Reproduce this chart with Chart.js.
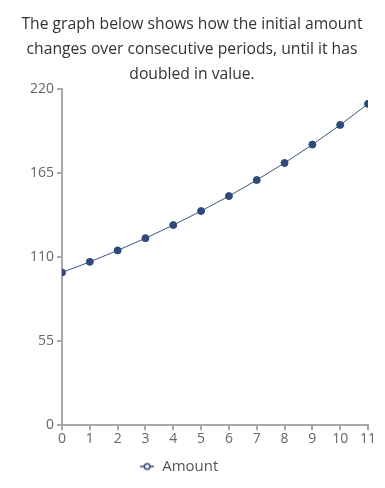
<!DOCTYPE html>
<html><head><meta charset="utf-8">
<script src="https://cdn.jsdelivr.net/npm/chart.js@4"></script>
<style>html,body{margin:0;padding:0;background:#fff}#w{width:385px;height:488px}</style>
</head><body><div id="w"><canvas id="c"></canvas></div>
<script>
const titleLines = ["The graph below shows how the initial amount","changes over consecutive periods, until it has","doubled in value."];
const periods = [0,1,2,3,4,5,6,7,8,9,10,11];
const amounts = [100,107,114.5,122.5,131.1,140.3,150.1,160.6,171.8,183.8,196.7,210.5];
const yTicks = [0,55,110,165,220];
const seriesName = "Amount";

const navy = '#2e4a78';
const axisCol = '#a8a8a8';
const font = "'Open Sans', 'Noto Sans', sans-serif";

// legend icon: line with hollow circle
const ic = document.createElement('canvas');
ic.width = 14; ic.height = 10;
const g = ic.getContext('2d');
g.strokeStyle = navy; g.lineWidth = 1.5;
g.beginPath(); g.moveTo(0,5); g.lineTo(14,5); g.stroke();
g.fillStyle = '#fff'; g.lineWidth = 1.5;
g.beginPath(); g.arc(7,5,2.8,0,Math.PI*2); g.fill(); g.stroke();

new Chart(document.getElementById('c'), {
  type: 'line',
  data: { datasets: [{
    label: seriesName,
    data: periods.map((p,i)=>({x:p,y:amounts[i]})),
    borderColor: '#3b5684', borderWidth: 1,
    pointBackgroundColor: navy, pointBorderColor: navy,
    pointRadius: 3.5, pointHoverRadius: 3.5, tension: 0
  }]},
  plugins: [{ id: 'legendShift', afterLayout(chart) { if (chart.legend) { chart.legend.left -= 26; } } }],
  options: {
    responsive: true, maintainAspectRatio: false, animation: false,
    layout: { padding: { left: 16, right: 17, top: 0, bottom: 4 } },
    plugins: {
      title: { display: true, text: titleLines, color: '#333', font: { family: font, size: 15.7, weight: 'normal', lineHeight: 1.6 }, padding: { top: 12, bottom: 2 } },
      legend: { position: 'bottom', labels: { color: '#555', font: { family: font, size: 15 }, usePointStyle: true, padding: 12,
        generateLabels: (chart) => [{ text: seriesName, pointStyle: ic, fontColor: '#555', datasetIndex: 0, hidden: false, lineWidth: 0, strokeStyle: 'transparent', fillStyle: 'transparent' }] } },
      tooltip: { enabled: false }
    },
    scales: {
      x: { type: 'linear', min: 0, max: 11,
        afterBuildTicks: (s) => { s.ticks = periods.map(v=>({value:v})); },
        grid: { display: true, drawOnChartArea: false, drawTicks: true, tickLength: 5, color: axisCol, lineWidth: 2 },
        border: { display: true, color: axisCol, width: 2 },
        ticks: { color: '#666', font: { family: font, size: 14 }, padding: 0, maxRotation: 0, autoSkip: false } },
      y: { type: 'linear', min: 0, max: 220,
        afterBuildTicks: (s) => { s.ticks = yTicks.map(v=>({value:v})); },
        afterFit: (s) => { s.width = 46; },
        grid: { display: true, drawOnChartArea: false, drawTicks: true, tickLength: 5, color: axisCol, lineWidth: 2 },
        border: { display: true, color: axisCol, width: 2 },
        ticks: { color: '#666', font: { family: font, size: 14 }, padding: 3 } }
    }
  }
});
</script></body></html>
